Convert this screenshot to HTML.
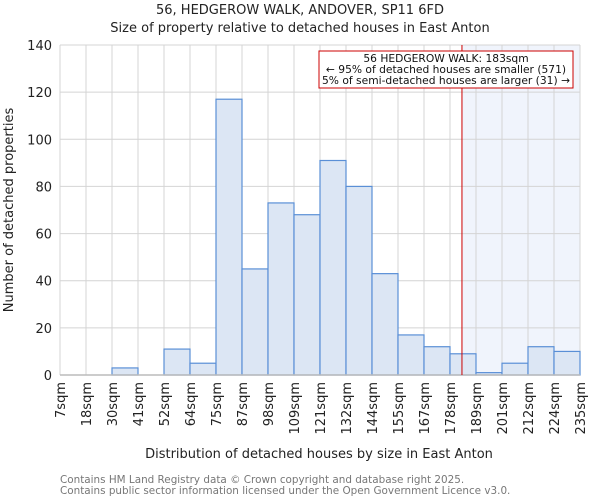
<!DOCTYPE html>
<html><head><meta charset="utf-8"><style>
body{margin:0;background:#fff;font-family:"DejaVu Sans","Liberation Sans",sans-serif}
</style></head><body>
<svg id="chart" width="600" height="500" xmlns="http://www.w3.org/2000/svg" font-family="DejaVu Sans, Liberation Sans, sans-serif">
<text x="300" y="14" text-anchor="middle" font-size="13" fill="#222">56, HEDGEROW WALK, ANDOVER, SP11 6FD</text>
<text x="300" y="32" text-anchor="middle" font-size="13" fill="#222">Size of property relative to detached houses in East Anton</text>
<g id="grid"></g><g id="bars"></g><g id="axes"></g>
<text x="319" y="458" text-anchor="middle" font-size="13" fill="#222">Distribution of detached houses by size in East Anton</text>
<text transform="translate(13,210) rotate(-90)" text-anchor="middle" font-size="13" fill="#222">Number of detached properties</text>
<text x="60" y="483" font-size="10.4" fill="#777">Contains HM Land Registry data © Crown copyright and database right 2025.</text>
<text x="60" y="494" font-size="10.4" fill="#777">Contains public sector information licensed under the Open Government Licence v3.0.</text>
</svg>
<script>
const labels=["7sqm","18sqm","30sqm","41sqm","52sqm","64sqm","75sqm","87sqm","98sqm","109sqm","121sqm","132sqm","144sqm","155sqm","167sqm","178sqm","189sqm","201sqm","212sqm","224sqm","235sqm"];
const counts=[0,0,3,0,11,5,117,45,73,68,91,80,43,17,12,9,1,5,12,10];
const yTicks=[0,20,40,60,80,100,120,140];
const markerBin=15.46;
const NS="http://www.w3.org/2000/svg";
const X0=60,X1=580,Y0=375,Y1=45,YMAX=140;
const bw=(X1-X0)/counts.length;
const xs=i=>X0+i*bw;
const ys=v=>Y0-(v/YMAX)*(Y0-Y1);
function mk(t,a,p){const e=document.createElementNS(NS,t);for(const k in a)e.setAttribute(k,a[k]);p.appendChild(e);return e;}
const grid=document.getElementById('grid'),bars=document.getElementById('bars'),axes=document.getElementById('axes');
const mx=xs(markerBin);
let sh=mk('rect',{x:mx,y:Y1,width:X1-mx,height:Y0-Y1,fill:'#f0f4fc'},grid);


for(let i=0;i<=counts.length;i++){const l=mk('line',{x1:xs(i),x2:xs(i),y1:Y1,y2:Y0,stroke:'#d4d4d4'},grid);

}
yTicks.forEach(t=>{const l=mk('line',{x1:X0,x2:X1,y1:ys(t),y2:ys(t),stroke:'#d4d4d4'},grid);


const tx=mk('text',{x:X0-8,y:ys(t)+5,'text-anchor':'end','font-size':13,fill:'#222'},axes);tx.textContent=t;

});
counts.forEach((c,i)=>{if(c<=0)return;const r=mk('rect',{x:xs(i),y:ys(c),width:bw,height:Y0-ys(c),fill:'#dce6f4',stroke:'#5a8fd6','stroke-width':1.2},bars);

});
const ax=mk('line',{x1:X0,x2:X1,y1:Y0,y2:Y0,stroke:'#bbb','stroke-width':1.5},axes);


labels.forEach((s,i)=>{const x=xs(i)+5;const t=mk('text',{transform:`translate(${x},382) rotate(-90)`,'text-anchor':'end','font-size':13,fill:'#222'},axes);t.textContent=s;

});
const ml=mk('line',{x1:mx,x2:mx,y1:Y1,y2:Y0,stroke:'#cc0000','stroke-width':1},axes);


const box=mk('rect',{x:319,y:51,width:254,height:37,fill:'#fff',stroke:'#cc0000'},axes);


["56 HEDGEROW WALK: 183sqm","← 95% of detached houses are smaller (571)","5% of semi-detached houses are larger (31) →"].forEach((s,i)=>{const t=mk('text',{x:446,y:62+i*11,'text-anchor':'middle','font-size':10.7,fill:'#111'},axes);t.textContent=s;

});
</script>
</body></html>
